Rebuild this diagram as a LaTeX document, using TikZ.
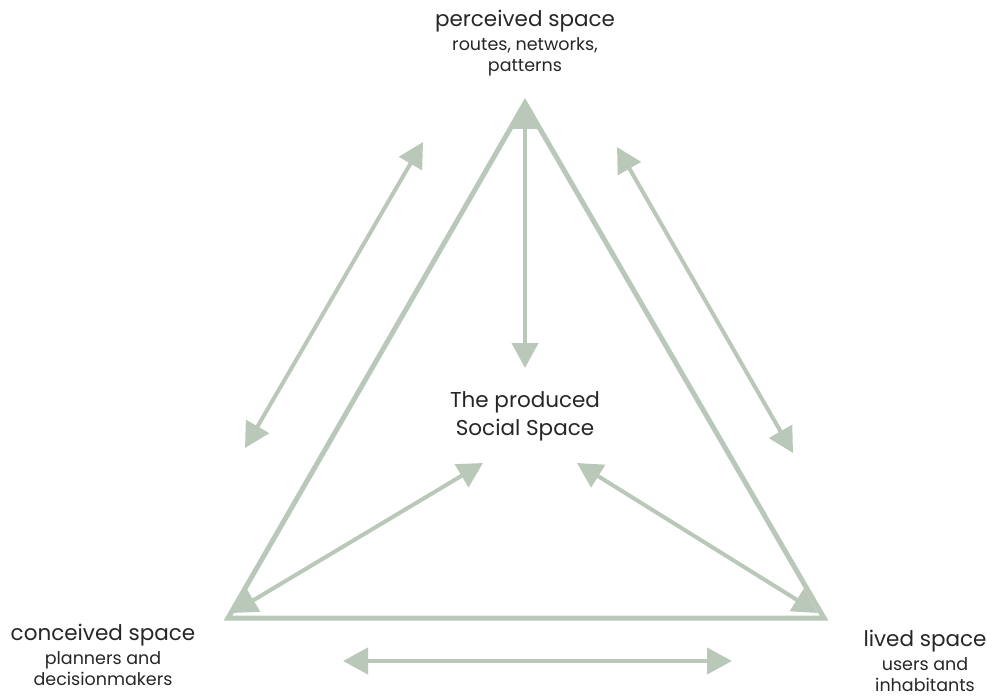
\documentclass[tikz,border=0pt]{standalone}
\usepackage{fontspec}
\setmainfont{Poppins}
\usetikzlibrary{arrows.meta}
\definecolor{sage}{HTML}{BAC8BA}
\tikzset{
  tri/.style={draw=sage, line width=5pt, line join=miter},
  arr/.style={draw=sage, line width=4pt, {Triangle[length=25pt,width=26pt]}-{Triangle[length=25pt,width=26pt]}, shorten <=0pt, shorten >=0pt},
  lbl/.style={text=black!85, align=center, inner sep=0pt, font=\fontsize{21.5}{28}\selectfont},
  sub/.style={text=black!85, align=center, inner sep=0pt, font=\fontsize{17.5}{21.5}\selectfont},
}
\begin{document}
\begin{tikzpicture}[x=1pt,y=-1pt]
\useasboundingbox (0,0) rectangle (987,698);
\coordinate (A) at (525,103);
\coordinate (B) at (228,618);
\coordinate (C) at (824,618);
\draw[tri] (A) -- (B) -- (C) -- cycle;
\coordinate (At) at (525,104);
\coordinate (M) at (525,368);
\coordinate (Bt) at (232,613);
\coordinate (Ct) at (818,613);
\coordinate (Lm) at (483,463);
\coordinate (Rm) at (577,463);
\draw[arr] (At) -- (M);
\draw[arr] (Bt) -- (Lm);
\draw[arr] (Ct) -- (Rm);
\coordinate (L1) at (245,448);
\coordinate (L2) at (423,142);
\coordinate (R1) at (617,147);
\coordinate (R2) at (793,453);
\coordinate (D1) at (343,661);
\coordinate (D2) at (732,661);
\draw[arr] (L1) -- (L2);
\draw[arr] (R1) -- (R2);
\draw[arr] (D1) -- (D2);
\node[lbl] (per) at (525,21) {perceived space};
\node[sub, anchor=north] (pers) at (525,37) {routes, networks,\\patterns};
\node[lbl] (prod) at (525,416) {The produced\\Social Space};
\node[lbl] (con) at (103,635) {conceived space};
\node[sub, anchor=north] (cons) at (103,651) {planners and\\decisionmakers};
\node[lbl] (liv) at (925,641) {lived space};
\node[sub, anchor=north] (livs) at (925,657) {users and\\inhabitants};
\end{tikzpicture}
\end{document}
